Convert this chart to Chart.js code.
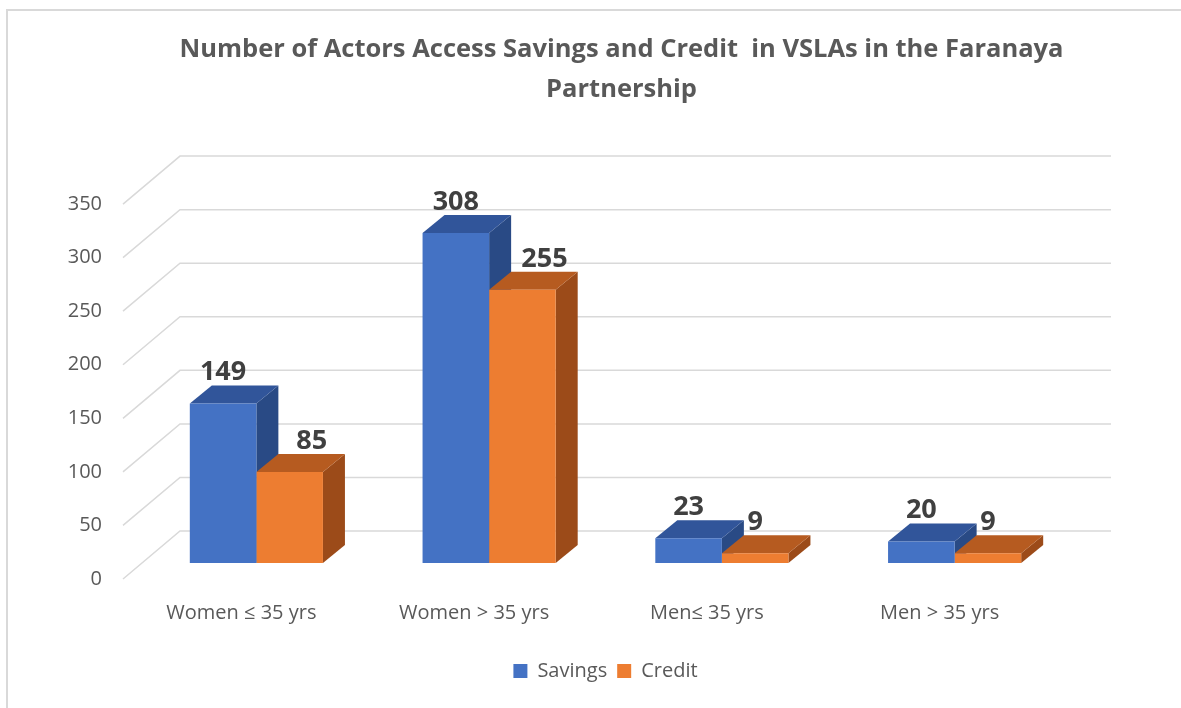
<!DOCTYPE html>
<html>
<head>
<meta charset="utf-8">
<title>Number of Actors Access Savings and Credit</title>
<script src="https://cdn.jsdelivr.net/npm/chart.js@4.4.1/dist/chart.umd.min.js"></script>
<style>
  html, body { margin: 0; padding: 0; background: #fff; }
  #marco { position: absolute; left: 6px; top: 9px; right: 0; bottom: 0;
           border-left: 2px solid #d9d9d9; border-top: 2px solid #d9d9d9; }
  #grafico { position: absolute; left: 0; top: 0; }
</style>
</head>
<body>
<div id="marco"></div>
<canvas id="grafico" width="1181" height="708"></canvas>
<script>
// ============================
// 1. Datos del gráfico
// ============================
const categorias = ['Women ≤ 35 yrs', 'Women > 35 yrs', 'Men≤ 35 yrs', 'Men > 35 yrs'];
const ahorros = [149, 308, 23, 20];   // Savings
const creditos = [85, 255, 9, 9];     // Credit
const nombresSeries = ['Savings', 'Credit'];
const ejeYMin = 0;
const ejeYMax = 350;
const ejeYPaso = 50;

// Colores: frente, arriba, lado
const coloresAhorro = ['#4472C4', '#31559A', '#294A85'];
const coloresCredito = ['#ED7D31', '#B65B20', '#9C4B19'];
const colorTexto = '#595959';
const colorRejilla = '#d9d9d9';

// Desplazamientos del efecto 3D (en píxeles)
const PROF_X = 22, PROF_Y = 18;     // profundidad de cada barra
const FONDO_X = 40, FONDO_Y = 32;   // pared del fondo
const FRENTE_X = -17, FRENTE_Y = 16; // borde delantero del piso

// ============================
// 2. Plugin: pared, rejilla y caras 3D
// ============================
const fondo3D = {
    id: 'fondo3D',
    beforeDatasetsDraw(chart) {
        const { ctx, chartArea } = chart;
        const y = chart.scales.y;
        ctx.save();
        ctx.strokeStyle = colorRejilla;
        ctx.lineWidth = 1.5;
        y.ticks.forEach(t => {
            const py = y.getPixelForValue(t.value);
            ctx.beginPath();
            ctx.moveTo(chartArea.left + FRENTE_X, py + FRENTE_Y);
            ctx.lineTo(chartArea.left + FONDO_X, py - FONDO_Y);
            ctx.lineTo(chartArea.right + FONDO_X, py - FONDO_Y);
            ctx.stroke();
        });

        // caras superior y lateral de cada barra
        chart.data.datasets.forEach((ds, i) => {
            const meta = chart.getDatasetMeta(i);
            const col = i === 0 ? coloresAhorro : coloresCredito;
            meta.data.forEach(bar => {
                const izq = bar.x - bar.width / 2;
                const der = bar.x + bar.width / 2;
                const arriba = bar.y;
                const base = bar.base;
                // lado
                ctx.fillStyle = col[2];
                ctx.beginPath();
                ctx.moveTo(der, arriba);
                ctx.lineTo(der + PROF_X, arriba - PROF_Y);
                ctx.lineTo(der + PROF_X, base - PROF_Y);
                ctx.lineTo(der, base);
                ctx.closePath();
                ctx.fill();
                // arriba
                ctx.fillStyle = col[1];
                ctx.beginPath();
                ctx.moveTo(izq, arriba);
                ctx.lineTo(der, arriba);
                ctx.lineTo(der + PROF_X, arriba - PROF_Y);
                ctx.lineTo(izq + PROF_X, arriba - PROF_Y);
                ctx.closePath();
                ctx.fill();
            });
        });
        ctx.restore();
    }
};

// ============================
// 3. Plugin: etiquetas de valores
// ============================
const etiquetas = {
    id: 'etiquetas',
    afterDatasetsDraw(chart) {
        const { ctx } = chart;
        const metaAhorro = chart.getDatasetMeta(0);
        ctx.save();
        ctx.font = 'bold 27px "Open Sans"';
        ctx.fillStyle = '#404040';
        ctx.textAlign = 'center';
        ctx.textBaseline = 'middle';
        chart.data.datasets.forEach((ds, i) => {
            chart.getDatasetMeta(i).data.forEach((bar, j) => {
                let x = bar.x;
                const yTexto = bar.y - 31;
                // si la barra de al lado tapa la etiqueta, se corre hacia la derecha
                if (i === 1 && metaAhorro.data[j].y < yTexto) x += PROF_X;
                ctx.fillText(ds.data[j], x, yTexto);
            });
        });
        ctx.restore();
    }
};

// ============================
// 4. Configuración del gráfico
// ============================
const fuente = { family: 'Open Sans', size: 20 };

new Chart(document.getElementById('grafico'), {
    type: 'bar',
    data: {
        labels: categorias,
        datasets: [
            { label: nombresSeries[0], data: ahorros, backgroundColor: coloresAhorro[0], borderWidth: 0 },
            { label: nombresSeries[1], data: creditos, backgroundColor: coloresCredito[0], borderWidth: 0 }
        ]
    },
    options: {
        responsive: false,
        animation: false,
        layout: { padding: { left: 62, right: 0, top: 0, bottom: 17 } },
        datasets: { bar: { barPercentage: 1, categoryPercentage: 0.572 } },
        plugins: {
            title: {
                display: true,
                text: ['Number of Actors Access Savings and Credit  in VSLAs in the Faranaya', 'Partnership'],
                color: colorTexto,
                font: { family: 'Open Sans', size: 25.5, weight: 'bold', lineHeight: 1.57 },
                padding: { top: 30, bottom: 78 }
            },
            legend: {
                position: 'bottom',
                fullSize: false,
                labels: { boxWidth: 14, boxHeight: 14, padding: 10, color: colorTexto, font: fuente }
            },
            tooltip: { enabled: false }
        },
        scales: {
            x: {
                grid: { display: false, drawTicks: false },
                border: { display: false },
                ticks: { color: colorTexto, font: fuente, padding: 38, labelOffset: -15 },
                afterFit: s => { s.height = 88; }
            },
            y: {
                min: ejeYMin,
                max: ejeYMax,
                grid: { display: false, drawTicks: false },
                border: { display: false },
                ticks: { stepSize: ejeYPaso, color: colorTexto, font: fuente, padding: 38, labelOffset: 16 },
                afterFit: s => { s.width = 78; }
            },
            // eje vacío a la derecha, solo reserva el espacio
            y2: {
                position: 'right',
                grid: { display: false, drawTicks: false },
                border: { display: false },
                ticks: { display: false },
                afterFit: s => { s.width = 110; }
            }
        }
    },
    plugins: [fondo3D, etiquetas]
});
</script>
</body>
</html>
